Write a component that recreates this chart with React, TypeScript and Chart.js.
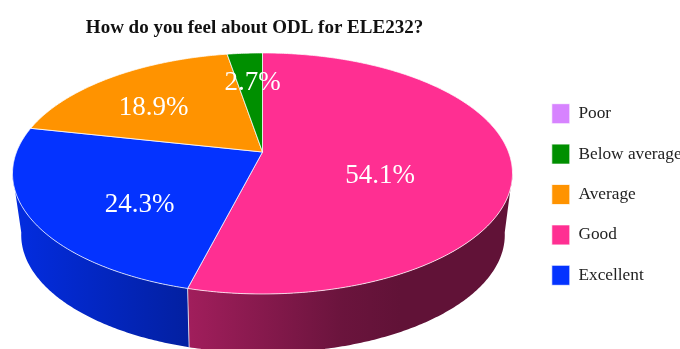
import { useEffect, useRef } from "react";
import { Chart, registerables } from "chart.js";

Chart.register(...registerables);

// Survey responses, in the order the slices run clockwise from twelve o'clock.
const sliceLabels = ["Good", "Excellent", "Average", "Below average", "Poor"];
const sliceCounts = [20, 9, 7, 1, 0];
const sliceColors = ["#FF2F92", "#0433FF", "#FF9300", "#008F00", "#D783FF"];
const legendOrder = ["Poor", "Below average", "Average", "Good", "Excellent"];

const SERIF = '"Liberation Serif", "Times New Roman", serif';

// Perspective projection of the unit circle onto the tilted top and bottom faces.
const TOP_FACE = { cx: 262.5, cy: 152, a: 246, b: 116.7, k: 0.178 };
const BOTTOM_FACE = { cx: 263, cy: 211.6, a: 237, b: 113.3, k: 0.198 };

// Wall brightness from left to right, as a fraction of the slice colour.
const WALL_SHADE: [number, number][] = [
  [21, 0.87],
  [188, 0.63],
  [340, 0.42],
  [400, 0.38],
  [505, 0.38],
];

// Centre of each percentage label, relative to the pie's apex.
const LABEL_OFFSETS: Record<string, [number, number]> = {
  Good: [117.5, 23.5],
  Excellent: [-123, 53],
  Average: [-109, -44.5],
  "Below average": [-10, -69],
};

type Face = typeof TOP_FACE;

const project = (f: Face, t: number): [number, number] => {
  const u = Math.cos(t);
  const v = Math.sin(t);
  const d = 1 - f.k * v;
  return [f.cx + (f.a * u) / d, f.cy + (f.b * v) / d];
};

const traceRim = (ctx: CanvasRenderingContext2D, f: Face, from: number, to: number, start: boolean) => {
  const steps = Math.max(2, Math.ceil(Math.abs(to - from) / 0.01));
  for (let i = 0; i <= steps; i++) {
    const [x, y] = project(f, from + ((to - from) * i) / steps);
    if (i === 0 && start) ctx.moveTo(x, y);
    else ctx.lineTo(x, y);
  }
};

const shadeColor = (hex: string, s: number) => {
  const n = parseInt(hex.slice(1), 16);
  const c = [(n >> 16) & 255, (n >> 8) & 255, n & 255].map((v) => Math.round(v * s));
  return `rgb(${c[0]},${c[1]},${c[2]})`;
};

const tiltedPie = {
  id: "tiltedPie",
  beforeDatasetDraw(chart: any, args: any) {
    const { ctx } = chart;
    const arcs = args.meta.data;
    const edge = Math.asin(TOP_FACE.k);
    const x0 = WALL_SHADE[0][0];
    const x1 = WALL_SHADE[WALL_SHADE.length - 1][0];

    // Outer wall: only the part of the rim that faces the viewer.
    arcs.forEach((arc: any) => {
      const from = Math.max(arc.startAngle, edge);
      const to = Math.min(arc.endAngle, Math.PI - edge);
      if (to <= from) return;
      const grad = ctx.createLinearGradient(x0, 0, x1, 0);
      WALL_SHADE.forEach(([x, s]) => {
        grad.addColorStop((x - x0) / (x1 - x0), shadeColor(arc.options.backgroundColor, s));
      });
      ctx.beginPath();
      traceRim(ctx, TOP_FACE, from, to, true);
      traceRim(ctx, BOTTOM_FACE, to, from, false);
      ctx.closePath();
      ctx.fillStyle = grad;
      ctx.fill();
    });

    // Seams where two slices meet on the wall.
    arcs.forEach((arc: any) => {
      const t = arc.endAngle;
      if (arc.circumference === 0 || t <= edge || t >= Math.PI - edge) return;
      const [tx, ty] = project(TOP_FACE, t);
      const [bx, by] = project(BOTTOM_FACE, t);
      ctx.beginPath();
      ctx.moveTo(tx, ty);
      ctx.lineTo(bx, by);
      ctx.strokeStyle = arc.options.borderColor;
      ctx.lineWidth = arc.options.borderWidth;
      ctx.stroke();
    });

    // Top face.
    arcs.forEach((arc: any) => {
      if (arc.circumference === 0) return;
      ctx.beginPath();
      ctx.moveTo(TOP_FACE.cx, TOP_FACE.cy);
      traceRim(ctx, TOP_FACE, arc.startAngle, arc.endAngle, false);
      ctx.closePath();
      ctx.fillStyle = arc.options.backgroundColor;
      ctx.fill();
      ctx.strokeStyle = arc.options.borderColor;
      ctx.lineWidth = arc.options.borderWidth;
      ctx.stroke();
    });

    // Percentage labels.
    const total = sliceCounts.reduce((s, v) => s + v, 0);
    ctx.save();
    ctx.font = `27px ${SERIF}`;
    ctx.fillStyle = "#ffffff";
    ctx.textAlign = "center";
    ctx.textBaseline = "middle";
    sliceLabels.forEach((label, i) => {
      const off = LABEL_OFFSETS[label];
      if (!off || sliceCounts[i] === 0) return;
      const text = `${((sliceCounts[i] / total) * 100).toFixed(1)}%`;
      ctx.fillText(text, TOP_FACE.cx + off[0], TOP_FACE.cy + off[1]);
    });
    ctx.restore();
    return false;
  },
  afterLayout(chart: any) {
    // Title sits over the pie and the legend keeps to the right margin.
    chart.titleBlock.left = 0;
    chart.titleBlock.right = 509;
    chart.legend.left = 531.4;
    chart.legend.top += 20;
    chart.legend.bottom += 20;
  },
};

export default function App() {
  const ref = useRef<HTMLCanvasElement>(null);

  useEffect(() => {
    if (!ref.current) return;
    const chart = new Chart(ref.current, {
      type: "pie",
      plugins: [tiltedPie],
      data: {
        labels: sliceLabels,
        datasets: [
          {
            data: sliceCounts,
            backgroundColor: sliceColors,
            borderColor: "rgba(255,255,255,0.75)",
            borderWidth: 1,
          },
        ],
      },
      options: {
        animation: false,
        responsive: false,
        events: [],
        layout: { padding: 0 },
        plugins: {
          tooltip: { enabled: false },
          title: {
            display: true,
            text: "How do you feel about ODL for ELE232?",
            color: "#111111",
            font: { family: SERIF, size: 19, weight: "bold" },
            padding: { top: 17, bottom: 0 },
          },
          legend: {
            position: "right",
            labels: {
              color: "#222222",
              font: { family: SERIF, size: 17.3 },
              boxWidth: 18,
              boxHeight: 20,
              padding: 20.4,
              sort: (a: any, b: any) => legendOrder.indexOf(a.text) - legendOrder.indexOf(b.text),
            },
          },
        },
      },
    } as any);
    return () => chart.destroy();
  }, []);

  return (
    <div style={{ position: "absolute", left: 0, top: 0, width: 680, height: 349, overflow: "hidden", background: "#fff" }}>
      <canvas ref={ref} width={680} height={349} style={{ display: "block" }} />
    </div>
  );
}
